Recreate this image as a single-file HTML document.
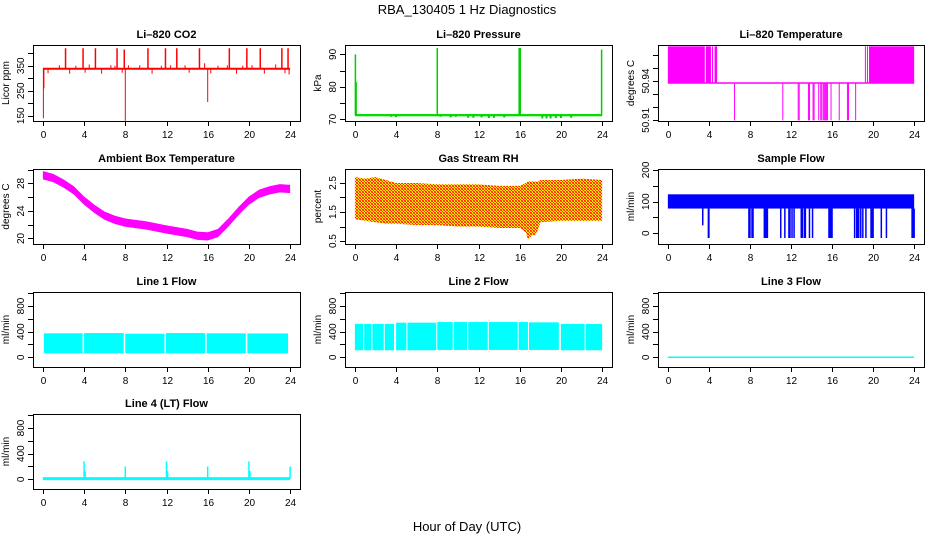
<!DOCTYPE html>
<html><head><meta charset="utf-8">
<style>
html,body{margin:0;padding:0;background:#fff;}
svg{display:block;font-family:"Liberation Sans",Helvetica,Arial,sans-serif;}
</style></head>
<body>
<svg id="chart" width="936" height="540" viewBox="0 0 936 540">
<text x="467" y="14" text-anchor="middle" font-size="13">RBA_130405  1 Hz Diagnostics</text>
<text x="467" y="531" text-anchor="middle" font-size="13">Hour of Day (UTC)</text>
<defs>
<pattern id="rhpat" width="3" height="3" patternUnits="userSpaceOnUse">
<rect width="3" height="3" fill="#ffee00"/>
<rect x="0" y="0" width="1" height="1" fill="#ff2000"/>
<rect x="1" y="1" width="1" height="1" fill="#ff2000"/>
<rect x="2" y="2" width="1" height="1" fill="#ff2000"/>
<rect x="2" y="0" width="1" height="1" fill="#ff6000"/>
<rect x="0" y="2" width="1" height="1" fill="#ff6000"/>
</pattern>
</defs>
</svg>
<script>
// ---- shared x ticks ----
const xTicks = [0,4,8,12,16,20,24];

// ---- CO2 ----
const co2Base = 338;
const co2UpSpikeHours = [2.2,3.9,5.1,7.2,7.9,10.2,11.9,13.0,15.2,18.1,19.8,21.1,23.2,23.8];
const co2UpSpikeValues = [420,420,420,420,415,420,420,420,420,420,420,420,420,420];
const co2DownSpikeHours = [0.05,0.1,8.0,16.0,23.9];
const co2DownSpikeValues = [140,260,130,205,315];
const co2SmallHours = [0.5,1.6,2.6,3.2,4.1,4.5,5.7,6.6,7.0,7.7,8.3,9.4,10.6,11.5,12.4,13.8,14.2,15.7,16.3,17.0,17.9,18.8,19.4,20.3,21.5,22.6,23.5];
const co2SmallValues = [320,352,318,350,322,355,318,352,350,322,352,352,318,350,352,352,322,360,320,350,352,318,350,352,318,355,320];
const co2Ticks = [150,200,250,300,350,400];
const co2Labels = [150,250,350];

// ---- Pressure ----
const presBase = 71.3;
const presSpikeHours = [0.05,0.12,8.0,15.95,16.05,23.95];
const presSpikeValues = [90,81.5,92,92,92,91.5];
const presDipHours = [3.5,4.0,8.3,9.3,9.8,11.0,11.5,12.3,13.0,13.5,14.5,18.2,18.6,19.0,19.5,20.0,21.0];
const presDipValues = [70.8,70.7,70.8,70.6,70.8,70.5,70.5,70.6,70.4,70.5,70.6,70.3,70.3,70.3,70.4,70.4,70.5];
const presTicks = [70,75,80,85,90];
const presLabels = [70,80,90];

// ---- Li-820 temperature ----
const tempLow = 50.91, tempBase = 50.9385, tempHigh = 50.9665;
const tempBlocks = [[0,3.6],[3.7,4.2],[4.3,4.4],[4.55,4.8],[19.2,19.25],[19.4,19.45],[19.6,24]];
const tempDropHours = [6.5,11.2,12.7,12.8,13.7,13.8,14.15,14.25,14.7,14.9,15.0,15.15,15.25,15.35,15.45,15.55,15.9,16.7,17.5,17.6,18.3];
const tempTicks = [50.91,50.92,50.93,50.94,50.95,50.96];
const tempLabels = ["50.91","50.94"];

// ---- Ambient box temperature ----
const ambHours = [0,1,2,3,4,5,6,7,8,10,12,14,15,16,17,18,19,20,21,22,23,24];
const ambValues = [29.2,28.8,28.0,27.0,25.5,24.3,23.3,22.7,22.3,21.9,21.3,20.8,20.4,20.3,20.8,22.3,24.0,25.5,26.5,27.0,27.3,27.2];
const ambTicks = [20,22,24,26,28,30];
const ambLabels = [20,24,28];

// ---- Gas stream RH ----
const rhHours = [0,1,2,3,4,6,8,10,12,14,16,16.6,16.8,17.2,17.5,17.8,18,20,22,24];
const rhUpper = [2.7,2.65,2.7,2.6,2.5,2.5,2.45,2.45,2.45,2.4,2.4,2.5,2.55,2.55,2.55,2.55,2.6,2.6,2.65,2.6];
const rhLower = [1.25,1.2,1.15,1.1,1.1,1.05,1.05,1.0,1.0,0.95,0.95,0.8,0.55,0.7,0.7,0.9,1.15,1.2,1.2,1.2];
const rhTicks = [0.5,1.0,1.5,2.0,2.5];
const rhLabels = ["0.5","1.5","2.5"];

// ---- Sample flow ----
const sfTop = 123, sfBottom = 78;
const sfDropHours = [3.4,3.95,4.0,7.9,8.0,8.2,8.3,9.4,9.5,9.6,9.7,11.0,11.4,11.8,11.9,12.1,12.3,13.0,13.1,13.3,13.4,13.8,14.1,15.7,15.8,15.9,16.0,18.2,18.4,18.5,18.6,18.8,19.0,19.3,19.8,19.9,20.0,20.8,21.3,23.8,23.9,24.0];
const sfDropValues = [25,-15,-15,-15,-15,-15,-15,-15,-15,-15,-15,-15,-15,-15,-15,-15,-15,-15,-15,-15,-15,-15,-15,-15,-15,-15,-15,-15,-15,-15,-15,-15,-15,-15,-15,-15,-15,-15,-15,-15,-15,-15];
const sfTicks = [0,50,100,150,200];
const sfLabels = [0,100,200];

// ---- Line flows ----
const flowTicks = [0,200,400,600,800,1000];
const flowLabels = [0,400,800];
const l1Segments = [[0.1,3.85],[4.0,7.85],[8.0,11.8],[11.95,15.75],[15.9,19.7],[19.85,23.8]];
const l1Top = [374,378,368,378,374,372];
const l1Bottom = [62,62,62,62,62,62];
const l2Segments = [[0,0.8],[0.9,1.6],[1.7,2.8],[2.9,3.8],[4.0,5.0],[5.1,7.9],[8.0,9.5],[9.6,10.9],[11.0,12.9],[13.0,15.8],[15.9,16.8],[16.9,19.8],[20.0,22.3],[22.4,24.0]];
const l2Top = [520,520,520,520,540,540,550,550,550,550,550,545,520,520];
const l2Bottom = [110,110,110,110,110,110,115,115,115,115,115,115,110,110];
const l3Value = 0;
const l4Base = 10;
const l4SpikeHours = [4.0,4.1,8.0,12.0,12.1,16.0,20.0,20.1,24.0];
const l4SpikeValues = [280,120,200,280,130,200,280,130,200];

// ---- layout ----
const NS = "http://www.w3.org/2000/svg";
const svg = document.getElementById('chart');
function mk(tag, attrs, parent){ const e=document.createElementNS(NS,tag); for(const k in attrs) e.setAttribute(k,attrs[k]); (parent||svg).appendChild(e); return e; }

const cols = [{l:33,r:300},{l:345,r:612},{l:658,r:924}];
const rows = [{t:45,b:121},{t:169,b:244},{t:292,b:367},{t:414,b:489}];

function panel(name, title, ytitle, col, row, ymin, ymax, yticks, ylabels){
  const c = cols[col], r = rows[row];
  const g = mk('g',{});
  
  
  const dx0 = c.l + (c.r-c.l)*0.04/1.08, dx1 = c.r - (c.r-c.l)*0.04/1.08;
  const x = h => dx0 + (h/24)*(dx1-dx0);
  const y = v => r.b - (v-ymin)/(ymax-ymin)*(r.b-r.t);
  const t = mk('text',{x:(c.l+c.r)/2, y:r.t-7, 'text-anchor':'middle','font-size':11,'font-weight':'bold'},g);
  t.textContent = title;
  
  
  const yt = mk('text',{x:0,y:0,'text-anchor':'middle','font-size':10,transform:`translate(${c.l-24},${(r.t+r.b)/2}) rotate(-90)`},g);
  yt.textContent = ytitle;
  
  
  const plot = mk('g',{},g);
  
  
  // axes
  const ax = mk('g',{stroke:'#000','stroke-width':1,fill:'none'},g);
  
  
  mk('rect',{x:c.l+0.5,y:r.t+0.5,width:c.r-c.l,height:r.b-r.t},ax);
  xTicks.forEach(h=>{
    const px = Math.round(x(h))+0.5;
    mk('line',{x1:px,x2:px,y1:r.b,y2:r.b+5},ax);
    const tl = mk('text',{x:px,y:r.b+17,'text-anchor':'middle','font-size':10,fill:'#000',stroke:'none'},g);
    tl.textContent = h;
    
    
  });
  yticks.forEach(v=>{
    const py = Math.round(y(v))+0.5;
    mk('line',{x1:c.l-5,x2:c.l,y1:py,y2:py},ax);
  });
  ylabels.forEach(v=>{
    const py = y(+v);
    const tl = mk('text',{x:0,y:0,'text-anchor':'middle','font-size':10,transform:`translate(${c.l-9},${py}) rotate(-90)`},g);
    tl.textContent = v;
    
    
  });
  return {x,y,plot};
}
function vline(p,h,v0,v1,color,w){ mk('line',{x1:p.x(h),x2:p.x(h),y1:p.y(v0),y2:p.y(v1),stroke:color,'stroke-width':w||1},p.plot); }
function band(p,hs,up,lo,fill){
  let d='M'+hs.map((h,i)=>p.x(h)+','+p.y(up[i])).join('L');
  for(let i=hs.length-1;i>=0;i--) d+='L'+p.x(hs[i])+','+p.y(lo[i]);
  mk('path',{d:d+'Z',fill:fill},p.plot);
}

// CO2
let p = panel('co2','Li\u2013820 CO2','Licor ppm',0,0,129,433,co2Ticks,co2Labels);
mk('rect',{x:p.x(0),y:p.y(co2Base+4),width:p.x(24)-p.x(0),height:p.y(co2Base-4)-p.y(co2Base+4),fill:'#ff0000'},p.plot);
co2SmallHours.forEach((h,i)=>vline(p,h,co2Base,co2SmallValues[i],'#ff0000',1));
co2UpSpikeHours.forEach((h,i)=>vline(p,h,co2Base,co2UpSpikeValues[i],'#ff0000',1.5));
co2DownSpikeHours.forEach((h,i)=>vline(p,h,co2Base,co2DownSpikeValues[i],'#ff0000',1));

// Pressure
p = panel('pressure','Li\u2013820 Pressure','kPa',1,0,69.5,92.9,presTicks,presLabels);
mk('rect',{x:p.x(0),y:p.y(presBase+0.35),width:p.x(24)-p.x(0),height:p.y(presBase-0.35)-p.y(presBase+0.35),fill:'#00dd00'},p.plot);
presDipHours.forEach((h,i)=>vline(p,h,presBase,presDipValues[i],'#00cc00',2));
presSpikeHours.forEach((h,i)=>vline(p,h,presBase,presSpikeValues[i],'#00cc00',1.5));

// Li-820 temperature
p = panel('li820-temp','Li\u2013820 Temperature','degrees C',2,0,50.9095,50.9675,tempTicks,tempLabels);
tempBlocks.forEach(b=>mk('rect',{x:p.x(b[0]),y:p.y(tempHigh),width:Math.max(1,p.x(b[1])-p.x(b[0])),height:p.y(tempBase)-p.y(tempHigh),fill:'#ff00ff'},p.plot));
mk('line',{x1:p.x(0),x2:p.x(24),y1:p.y(tempBase),y2:p.y(tempBase),stroke:'#ff00ff','stroke-width':1.5},p.plot);
tempDropHours.forEach(h=>vline(p,h,tempBase,tempLow,'#ff00ff',1));

// Ambient
p = panel('ambient-temp','Ambient Box Temperature','degrees C',0,1,19.2,30.1,ambTicks,ambLabels);
band(p,ambHours,ambValues.map(v=>v+0.6),ambValues.map(v=>v-0.6),'#ff00ff');

// RH
p = panel('gas-rh','Gas Stream RH','percent',1,1,0.4,2.98,rhTicks,rhLabels);
band(p,rhHours,rhUpper,rhLower,'url(#rhpat)');

// Sample flow
p = panel('sample-flow','Sample Flow','ml/min',2,1,-34,203,sfTicks,sfLabels);
mk('rect',{x:p.x(0),y:p.y(sfTop),width:p.x(24)-p.x(0),height:p.y(sfBottom)-p.y(sfTop),fill:'#0000ff'},p.plot);
sfDropHours.forEach((h,i)=>vline(p,h,sfBottom,sfDropValues[i],'#0000ff',1.5));

// Line 1
p = panel('line1-flow','Line 1 Flow','ml/min',0,2,-151,1018,flowTicks,flowLabels);
l1Segments.forEach((s,i)=>mk('rect',{x:p.x(s[0]),y:p.y(l1Top[i]),width:p.x(s[1])-p.x(s[0]),height:p.y(l1Bottom[i])-p.y(l1Top[i]),fill:'#00ffff'},p.plot));
// Line 2
p = panel('line2-flow','Line 2 Flow','ml/min',1,2,-151,1018,flowTicks,flowLabels);
l2Segments.forEach((s,i)=>mk('rect',{x:p.x(s[0]),y:p.y(l2Top[i]),width:p.x(s[1])-p.x(s[0]),height:p.y(l2Bottom[i])-p.y(l2Top[i]),fill:'#00ffff'},p.plot));
// Line 3
p = panel('line3-flow','Line 3 Flow','ml/min',2,2,-151,1018,flowTicks,flowLabels);
mk('line',{x1:p.x(0),x2:p.x(24),y1:p.y(l3Value),y2:p.y(l3Value),stroke:'#00ffff','stroke-width':1.5},p.plot);
// Line 4
p = panel('line4-flow','Line 4 (LT) Flow','ml/min',0,3,-151,1018,flowTicks,flowLabels);
mk('line',{x1:p.x(0),x2:p.x(24),y1:p.y(l4Base),y2:p.y(l4Base),stroke:'#00ffff','stroke-width':3},p.plot);
l4SpikeHours.forEach((h,i)=>vline(p,h,l4Base,l4SpikeValues[i],'#00ffff',1.5));
</script>
</body></html>
